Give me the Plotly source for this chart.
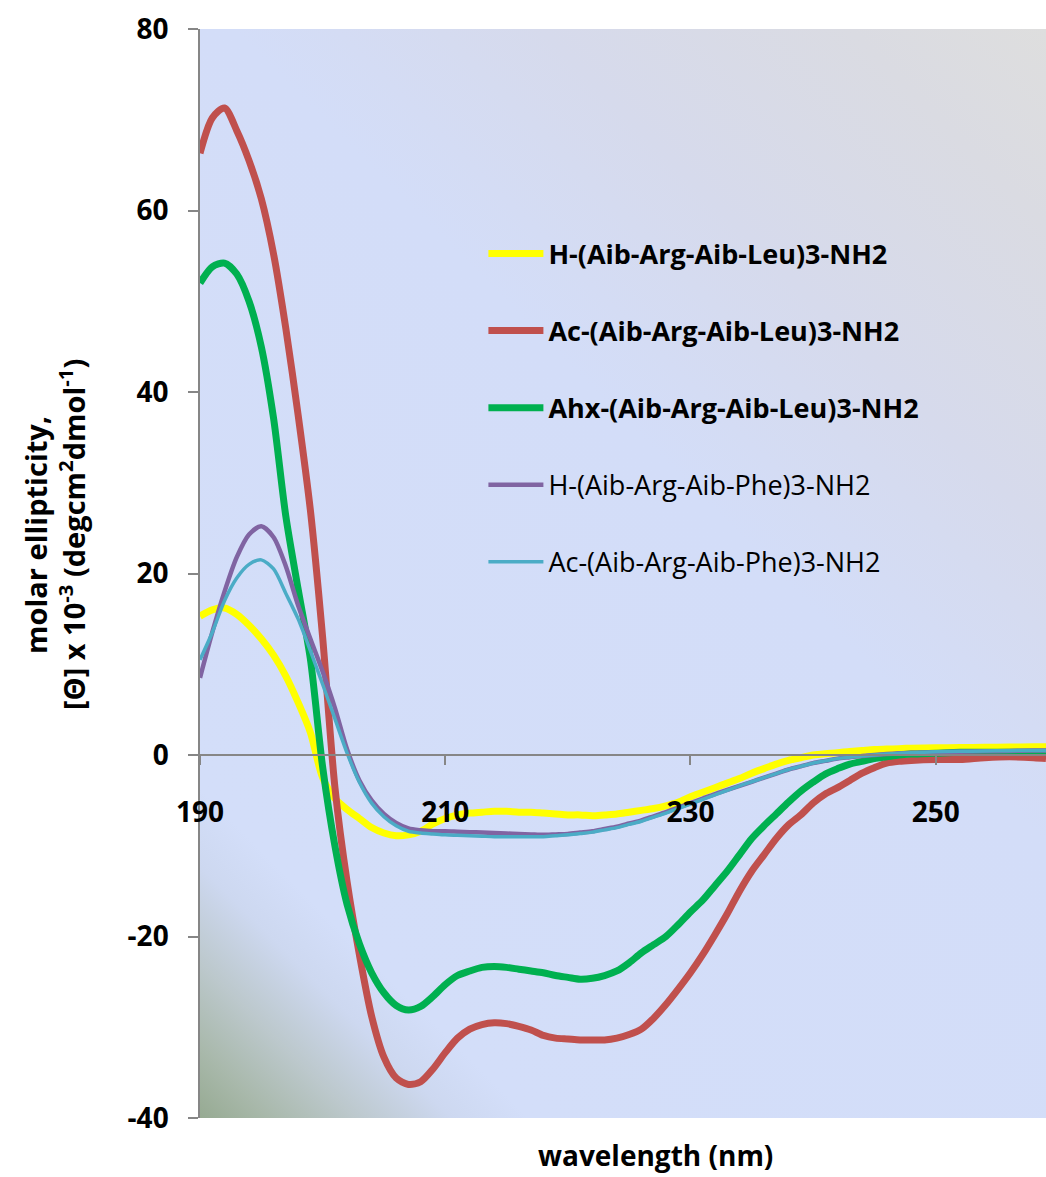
import base64
import plotly.graph_objects as go

# Wavelength grid (nm)
wavelength = [190, 191, 192, 193, 194, 195, 196, 197, 198, 199, 200, 201, 202, 203, 204,
              205, 206, 207, 208, 209, 210, 211, 212, 213, 214, 215, 216, 217, 218, 219,
              220, 221, 222, 223, 224, 225, 226, 227, 228, 229, 230, 231, 232, 233, 234,
              235, 236, 237, 238, 239, 240, 241, 242, 243, 244, 245, 246, 247, 248, 250,
              252, 254, 256, 258, 259]

# Molar ellipticity x 10^-3 for each peptide
h_leu = [15.3, 16.0, 16.2, 15.5, 14.3, 12.8, 11.0, 8.7, 5.8, 2.5, -2.5, -4.8, -6.0, -7.0, -8.0,
         -8.6, -8.9, -8.8, -8.4, -7.6, -7.0, -6.6, -6.4, -6.3, -6.2, -6.2, -6.3, -6.3, -6.4, -6.5,
         -6.6, -6.6, -6.7, -6.6, -6.5, -6.3, -6.1, -5.9, -5.6, -5.2, -4.6, -4.1, -3.6, -3.1, -2.6,
         -2.0, -1.5, -1.0, -0.6, -0.3, 0.0, 0.15, 0.25, 0.4, 0.5, 0.6, 0.65, 0.7, 0.75, 0.8,
         0.82, 0.85, 0.87, 0.9, 0.9]

ac_leu = [66.3, 70.2, 71.3, 68.8, 65.5, 61.3, 55.2, 47.0, 37.5, 27.0, 13.0, -3.5, -14.0, -22.0, -28.8,
          -33.3, -35.6, -36.3, -36.0, -34.6, -32.8, -31.2, -30.2, -29.7, -29.5, -29.6, -29.9, -30.3, -30.9, -31.2,
          -31.3, -31.4, -31.4, -31.4, -31.2, -30.8, -30.2, -29.0, -27.5, -25.8, -24.0, -22.0, -19.8, -17.5, -15.0,
          -12.8, -11.0, -9.2, -7.7, -6.6, -5.3, -4.3, -3.6, -2.8, -2.0, -1.4, -0.9, -0.7, -0.6, -0.5,
          -0.5, -0.3, -0.2, -0.3, -0.4]

ahx_leu = [52.0, 53.8, 54.2, 53.0, 50.0, 45.0, 37.1, 26.3, 18.3, 10.6, -1.3, -10.0, -16.5, -20.8, -24.0,
           -26.2, -27.6, -28.1, -27.7, -26.6, -25.3, -24.3, -23.8, -23.4, -23.3, -23.4, -23.6, -23.8, -24.0, -24.3,
           -24.5, -24.7, -24.6, -24.3, -23.8, -22.9, -21.8, -20.9, -20.0, -18.7, -17.3, -16.0, -14.4, -12.8, -11.0,
           -9.2, -7.8, -6.5, -5.2, -4.0, -3.0, -2.1, -1.5, -1.0, -0.7, -0.4, -0.2, 0.0, 0.1, 0.2,
           0.3, 0.3, 0.3, 0.3, 0.3]

h_phe = [8.5, 13.5, 18.0, 21.8, 24.3, 25.2, 24.0, 20.8, 16.5, 12.8, 9.2, 5.2, 0.6, -2.8, -5.0,
         -6.5, -7.5, -8.1, -8.3, -8.4, -8.4, -8.45, -8.5, -8.55, -8.6, -8.65, -8.7, -8.75, -8.8, -8.75,
         -8.7, -8.55, -8.4, -8.15, -7.9, -7.55, -7.2, -6.75, -6.3, -5.8, -5.3, -4.8, -4.3, -3.85, -3.4,
         -2.95, -2.5, -2.05, -1.6, -1.25, -0.9, -0.65, -0.4, -0.25, -0.1, 0.0, 0.1, 0.18, 0.25, 0.3,
         0.35, 0.4, 0.45, 0.5, 0.5]

ac_phe = [10.5, 13.5, 17.0, 19.5, 21.0, 21.5, 20.5, 17.8, 15.0, 11.5, 7.8, 4.0, 0.2, -3.0, -5.3,
          -6.8, -7.8, -8.4, -8.6, -8.7, -8.8, -8.85, -8.9, -8.95, -9.0, -9.0, -9.0, -9.0, -9.0, -8.9,
          -8.8, -8.65, -8.5, -8.25, -8.0, -7.65, -7.3, -6.85, -6.4, -5.9, -5.4, -4.9, -4.4, -3.9, -3.4,
          -2.95, -2.5, -2.05, -1.6, -1.25, -0.9, -0.65, -0.4, -0.25, -0.1, 0.0, 0.1, 0.18, 0.25, 0.35,
          0.4, 0.45, 0.48, 0.5, 0.5]

series_names = ["<b>H-(Aib-Arg-Aib-Leu)3-NH2</b>",
                "<b>Ac-(Aib-Arg-Aib-Leu)3-NH2</b>",
                "<b>Ahx-(Aib-Arg-Aib-Leu)3-NH2</b>",
                "H-(Aib-Arg-Aib-Phe)3-NH2",
                "Ac-(Aib-Arg-Aib-Phe)3-NH2"]
series_values = [h_leu, ac_leu, ahx_leu, h_phe, ac_phe]
series_colors = ["#FFFF00", "#C0504D", "#00B050", "#8064A2", "#4BACC6"]
series_widths = [7, 7, 7, 4.5, 3.5]

x_ticks = [190, 210, 230, 250]
y_ticks = [-40, -20, 0, 20, 40, 60, 80]

FONT = "Open Sans"

fig = go.Figure()
for i, (name, vals, col, w) in enumerate(zip(series_names, series_values, series_colors, series_widths)):
    fig.add_trace(go.Scatter(
        x=wavelength, y=vals, name=name, mode="lines",
        line=dict(color=col, width=w, shape="spline", smoothing=0.8),
        legendgroup=f"g{i}",
    ))

# Plot-area gradient fill (green corner -> pale blue -> grey), 45-degree direction
svg = """<svg xmlns="http://www.w3.org/2000/svg" width="846" height="1089" viewBox="0 0 846 1089" preserveAspectRatio="none">
<defs><linearGradient id="g" gradientUnits="userSpaceOnUse" x1="0" y1="1089" x2="967" y2="122">
<stop offset="0" stop-color="#96AA92"/>
<stop offset="0.035" stop-color="#A8B8AA"/>
<stop offset="0.08" stop-color="#BCC8CC"/>
<stop offset="0.13" stop-color="#CDD8F0"/>
<stop offset="0.17" stop-color="#D3DEF9"/>
<stop offset="0.58" stop-color="#D3DDF8"/>
<stop offset="0.74" stop-color="#D6DAEC"/>
<stop offset="0.9" stop-color="#DADBE2"/>
<stop offset="1" stop-color="#DEDEDE"/>
</linearGradient></defs>
<rect x="0" y="0" width="846" height="1089" fill="url(#g)"/>
</svg>"""
bg_src = "data:image/svg+xml;base64," + base64.b64encode(svg.encode()).decode()

fig.add_layout_image(dict(
    source=bg_src, xref="paper", yref="paper", x=0, y=1, sizex=1, sizey=1,
    sizing="stretch", xanchor="left", yanchor="top", layer="below",
))

axis_col = "#868686"
fig.update_layout(
    width=1046, height=1177,
    margin=dict(l=200, r=0, t=29, b=59),
    paper_bgcolor="white",
    plot_bgcolor="rgba(0,0,0,0)",
    font=dict(family=FONT, color="black"),
    showlegend=True,
    legend=dict(
        x=0.335, y=0.816, xanchor="left", yanchor="top",
        bgcolor="rgba(0,0,0,0)",
        font=dict(family=FONT, size=27, color="black"),
        tracegroupgap=39,
        itemwidth=55,
    ),
    xaxis=dict(
        range=[190, 259], tickvals=x_ticks, ticktext=[str(v) for v in x_ticks],
        anchor="free", position=1 / 3,
        showline=True, linecolor=axis_col, linewidth=1.5,
        ticks="outside", ticklen=9, tickwidth=1.5, tickcolor=axis_col,
        showgrid=False, zeroline=False,
        tickfont=dict(family=FONT, size=28, color="black", weight="bold"),
        ticklabelstandoff=24,
    ),
    yaxis=dict(
        range=[-40, 80], tickvals=y_ticks, ticktext=[str(v) for v in y_ticks],
        showline=True, linecolor=axis_col, linewidth=1.5,
        ticks="outside", ticklen=10, tickwidth=1.5, tickcolor=axis_col,
        showgrid=False, zeroline=False,
        tickfont=dict(family=FONT, size=28, color="black", weight="bold"),
        ticklabelstandoff=14,
    ),
)

# Axis titles
fig.add_annotation(
    text="wavelength (nm)", xref="paper", yref="paper",
    x=(655 - 200) / 846, y=-(1155 - 1118) / 1089,
    showarrow=False, xanchor="center", yanchor="middle", borderpad=0,
    font=dict(family=FONT, size=28, color="black", weight="bold"),
)
fig.add_annotation(
    text="molar ellipticity,", xref="paper", yref="paper",
    x=-(200 - 35) / 846, y=(1118 - 535) / 1089, textangle=-90,
    showarrow=False, xanchor="center", yanchor="middle",
    font=dict(family=FONT, size=29, color="black", weight="bold"),
)
fig.add_annotation(
    text="[Θ] x 10<sup>-3</sup> (degcm<sup>2</sup>dmol<sup>-1</sup>)", xref="paper", yref="paper",
    x=-(200 - 72) / 846, y=(1118 - 535) / 1089, textangle=-90,
    showarrow=False, xanchor="center", yanchor="middle",
    font=dict(family=FONT, size=29, color="black", weight="bold"),
)

fig.write_html("out.html")
